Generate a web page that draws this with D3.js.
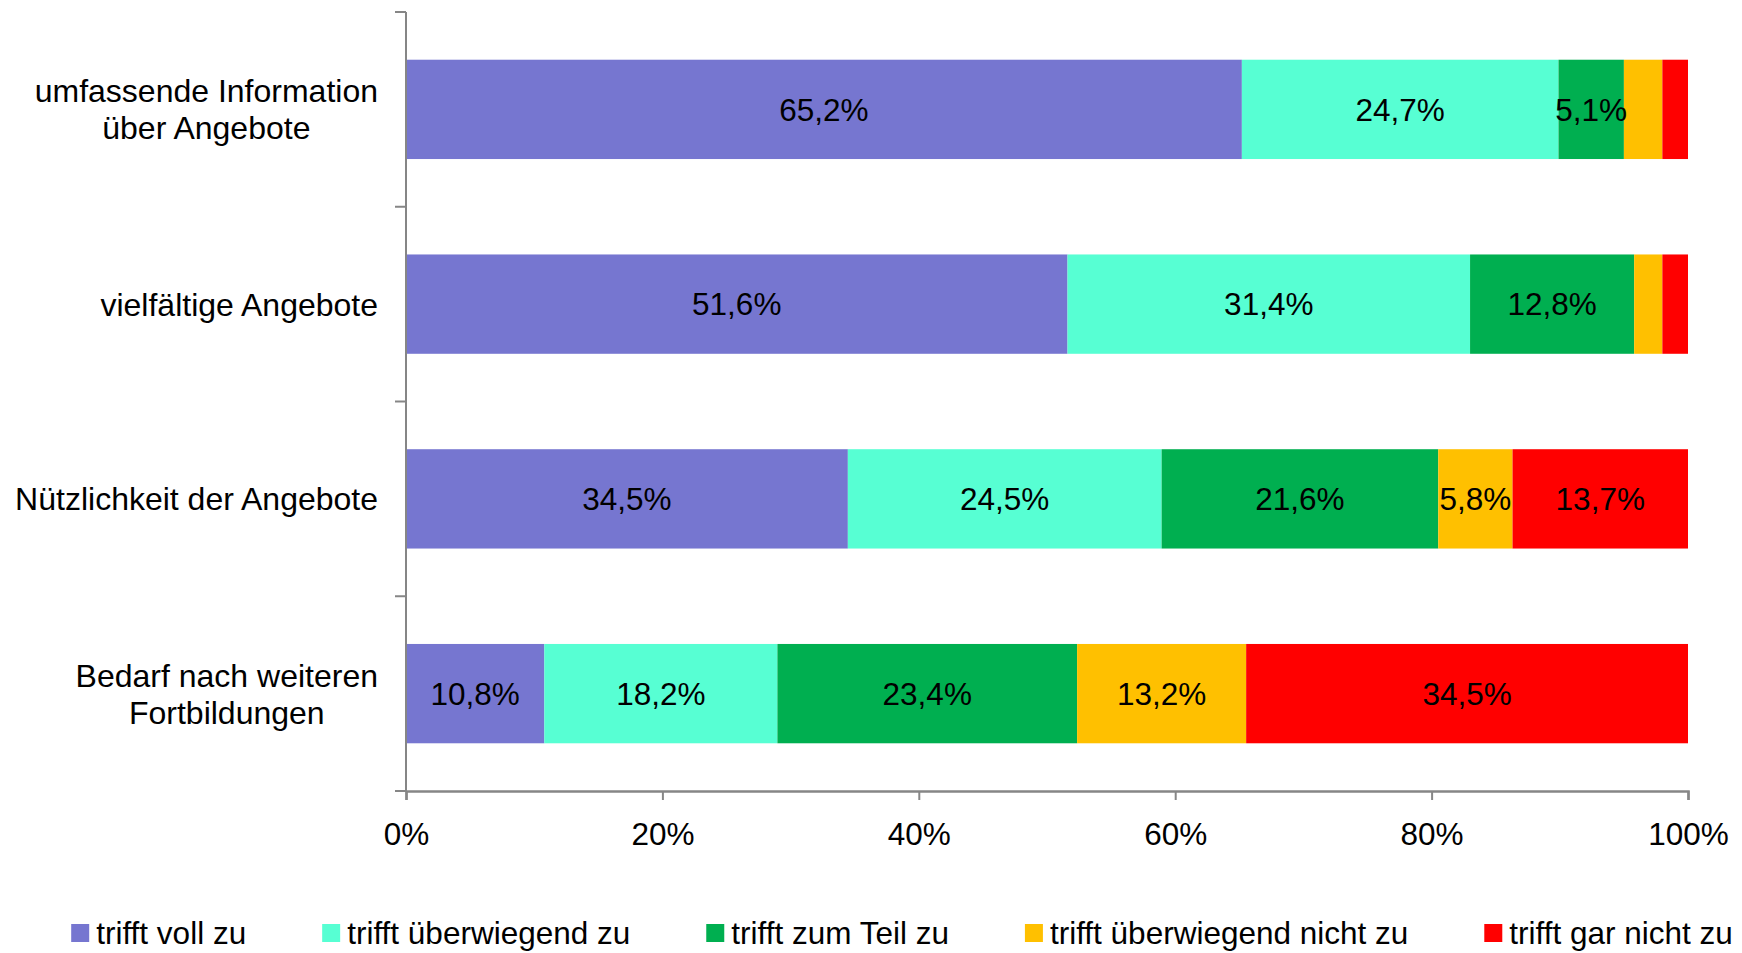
<!DOCTYPE html>
<html>
<head>
<meta charset="utf-8">
<script src="https://cdn.jsdelivr.net/npm/d3@7"></script>
<style>
  body { margin: 0; background: #fff; }
  text { font-family: "Liberation Sans", Arial, sans-serif; fill: #000; }
</style>
</head>
<body>
<div id="chart"></div>
<script>
// categories, top to bottom
var categories = [
    "umfassende Information\nüber Angebote",
    "vielfältige Angebote",
    "Nützlichkeit der Angebote",
    "Bedarf nach weiteren\nFortbildungen"
];
var seriesNames = [
    "trifft voll zu",
    "trifft überwiegend zu",
    "trifft zum Teil zu",
    "trifft überwiegend nicht zu",
    "trifft gar nicht zu"
];
// one array per series, in category order
var volZu = [65.2, 51.6, 34.5, 10.8];
var ueberwiegendZu = [24.7, 31.4, 24.5, 18.2];
var zumTeilZu = [5.1, 12.8, 21.6, 23.4];
var ueberwiegendNicht = [3.0, 2.2, 5.8, 13.2];
var garNicht = [2.0, 2.0, 13.7, 34.5];
var xTicks = [0, 0.2, 0.4, 0.6, 0.8, 1];
var colors = ["#7676D0", "#57FFD3", "#00AF50", "#FFC000", "#FF0000"];

(function(){
    var width = 1742, height = 953;
    var fontSize = 31.5, catFontSize = 32;
    var seriesValues = [volZu, ueberwiegendZu, zumTeilZu, ueberwiegendNicht, garNicht];

    var rows = categories.map(function(cat, i){
        var row = {cat: cat};
        seriesNames.forEach(function(name, s){ row[name] = seriesValues[s][i]; });
        return row;
    });

    var svg = d3.select("#chart").append("svg")
        .attr("width", width)
        .attr("height", height);

    var x = d3.scaleLinear().domain([0, 1]).range([406, 1688]);
    var y = d3.scaleBand().domain(categories).range([12, 791])
        .paddingInner(0.49).paddingOuter(0.245);

    var stack = d3.stack().keys(seriesNames).offset(d3.stackOffsetExpand);
    var layers = stack(rows);
    var de = d3.formatLocale({decimal: ",", thousands: ".", grouping: [3], currency: ["", "€"]});
    var fmt = de.format(".1f");

    //bars
    var g = svg.append("g");
    layers.forEach(function(layer, s){
        var lg = g.append("g").attr("fill", colors[s]);
        lg.selectAll("rect").data(layer).enter().append("rect")
            .attr("x", function(d){ return x(d[0]); })
            .attr("width", function(d){ return x(d[1]) - x(d[0]); })
            .attr("y", function(d){ return y(d.data.cat); })
            .attr("height", y.bandwidth());
    });

    //segment labels
    layers.forEach(function(layer, s){
        var key = layer.key;
        svg.append("g").selectAll("text").data(layer.filter(function(d){ return d.data[key] >= 5; }))
            .enter().append("text")
            .attr("x", function(d){ return (x(d[0]) + x(d[1])) / 2; })
            .attr("y", function(d){ return y(d.data.cat) + y.bandwidth() / 2; })
            .attr("dy", "0.36em")
            .attr("text-anchor", "middle")
            .style("font-size", fontSize + "px")
            .text(function(d){ return fmt(d.data[key]) + "%"; });
    });

    //axes
    var axisColor = "#868686";
    var yAxis = svg.append("g");
    yAxis.append("line")
        .attr("x1", x(0)).attr("x2", x(0))
        .attr("y1", y.range()[0]).attr("y2", y.range()[1])
        .attr("stroke", axisColor).attr("stroke-width", 2);
    var bounds = categories.map(function(c){ return y(c) - y.step() * y.paddingInner() / 2; });
    bounds.push(y.range()[1]);
    yAxis.selectAll("line.tick").data(bounds).enter().append("line")
        .attr("class", "tick")
        .attr("x1", x(0) - 11).attr("x2", x(0))
        .attr("y1", function(d){ return d; }).attr("y2", function(d){ return d; })
        .attr("stroke", axisColor).attr("stroke-width", 2);

    var xAxis = svg.append("g").attr("transform", "translate(0," + y.range()[1] + ")")
        .call(d3.axisBottom(x).tickValues(xTicks).tickSize(9).tickPadding(23)
              .tickFormat(d3.format(".0%")));
    xAxis.select(".domain").attr("stroke", axisColor).attr("stroke-width", 2.5);
    xAxis.selectAll(".tick line").attr("stroke", axisColor).attr("stroke-width", 2);
    xAxis.selectAll(".tick text")
        .attr("font-family", null)
        .style("font-size", fontSize + "px")
        .attr("fill", "#000");

    //category labels
    var labelRight = 378, lineH = 37;
    categories.forEach(function(cat){
        var lines = cat.split("\n");
        var t = svg.append("text")
            .attr("text-anchor", "middle")
            .style("font-size", catFontSize + "px");
        var cy = y(cat) + y.bandwidth() / 2;
        var y0 = cy - (lines.length - 1) * lineH / 2;
        var spans = lines.map(function(line, i){
            return t.append("tspan").attr("y", y0 + i * lineH).attr("dy", "0.36em").text(line);
        });
        var maxW = d3.max(spans, function(sp){ return sp.node().getComputedTextLength(); });
        spans.forEach(function(sp){ sp.attr("x", labelRight - maxW / 2); });
    });

    //legend (kept just above the bottom edge so descenders fit)
    var leg = svg.append("g");
    var box = 18, boxGap = 7, itemGap = 76, legendY = 933;
    var items = seriesNames.map(function(name, s){
        var it = leg.append("g");
        it.append("rect")
            .attr("y", legendY - box / 2)
            .attr("width", box).attr("height", box)
            .attr("fill", colors[s]);
        var t = it.append("text")
            .attr("x", box + boxGap)
            .attr("y", legendY)
            .attr("dy", "0.36em")
            .style("font-size", fontSize + "px")
            .text(name);
        return {g: it, w: box + boxGap + t.node().getComputedTextLength()};
    });
    var total = d3.sum(items, function(d){ return d.w; }) + itemGap * (items.length - 1);
    var cursor = 902 - total / 2;
    items.forEach(function(d){
        d.g.attr("transform", "translate(" + cursor + ",0)");
        cursor += d.w + itemGap;
    });
})();
</script>
</body>
</html>
